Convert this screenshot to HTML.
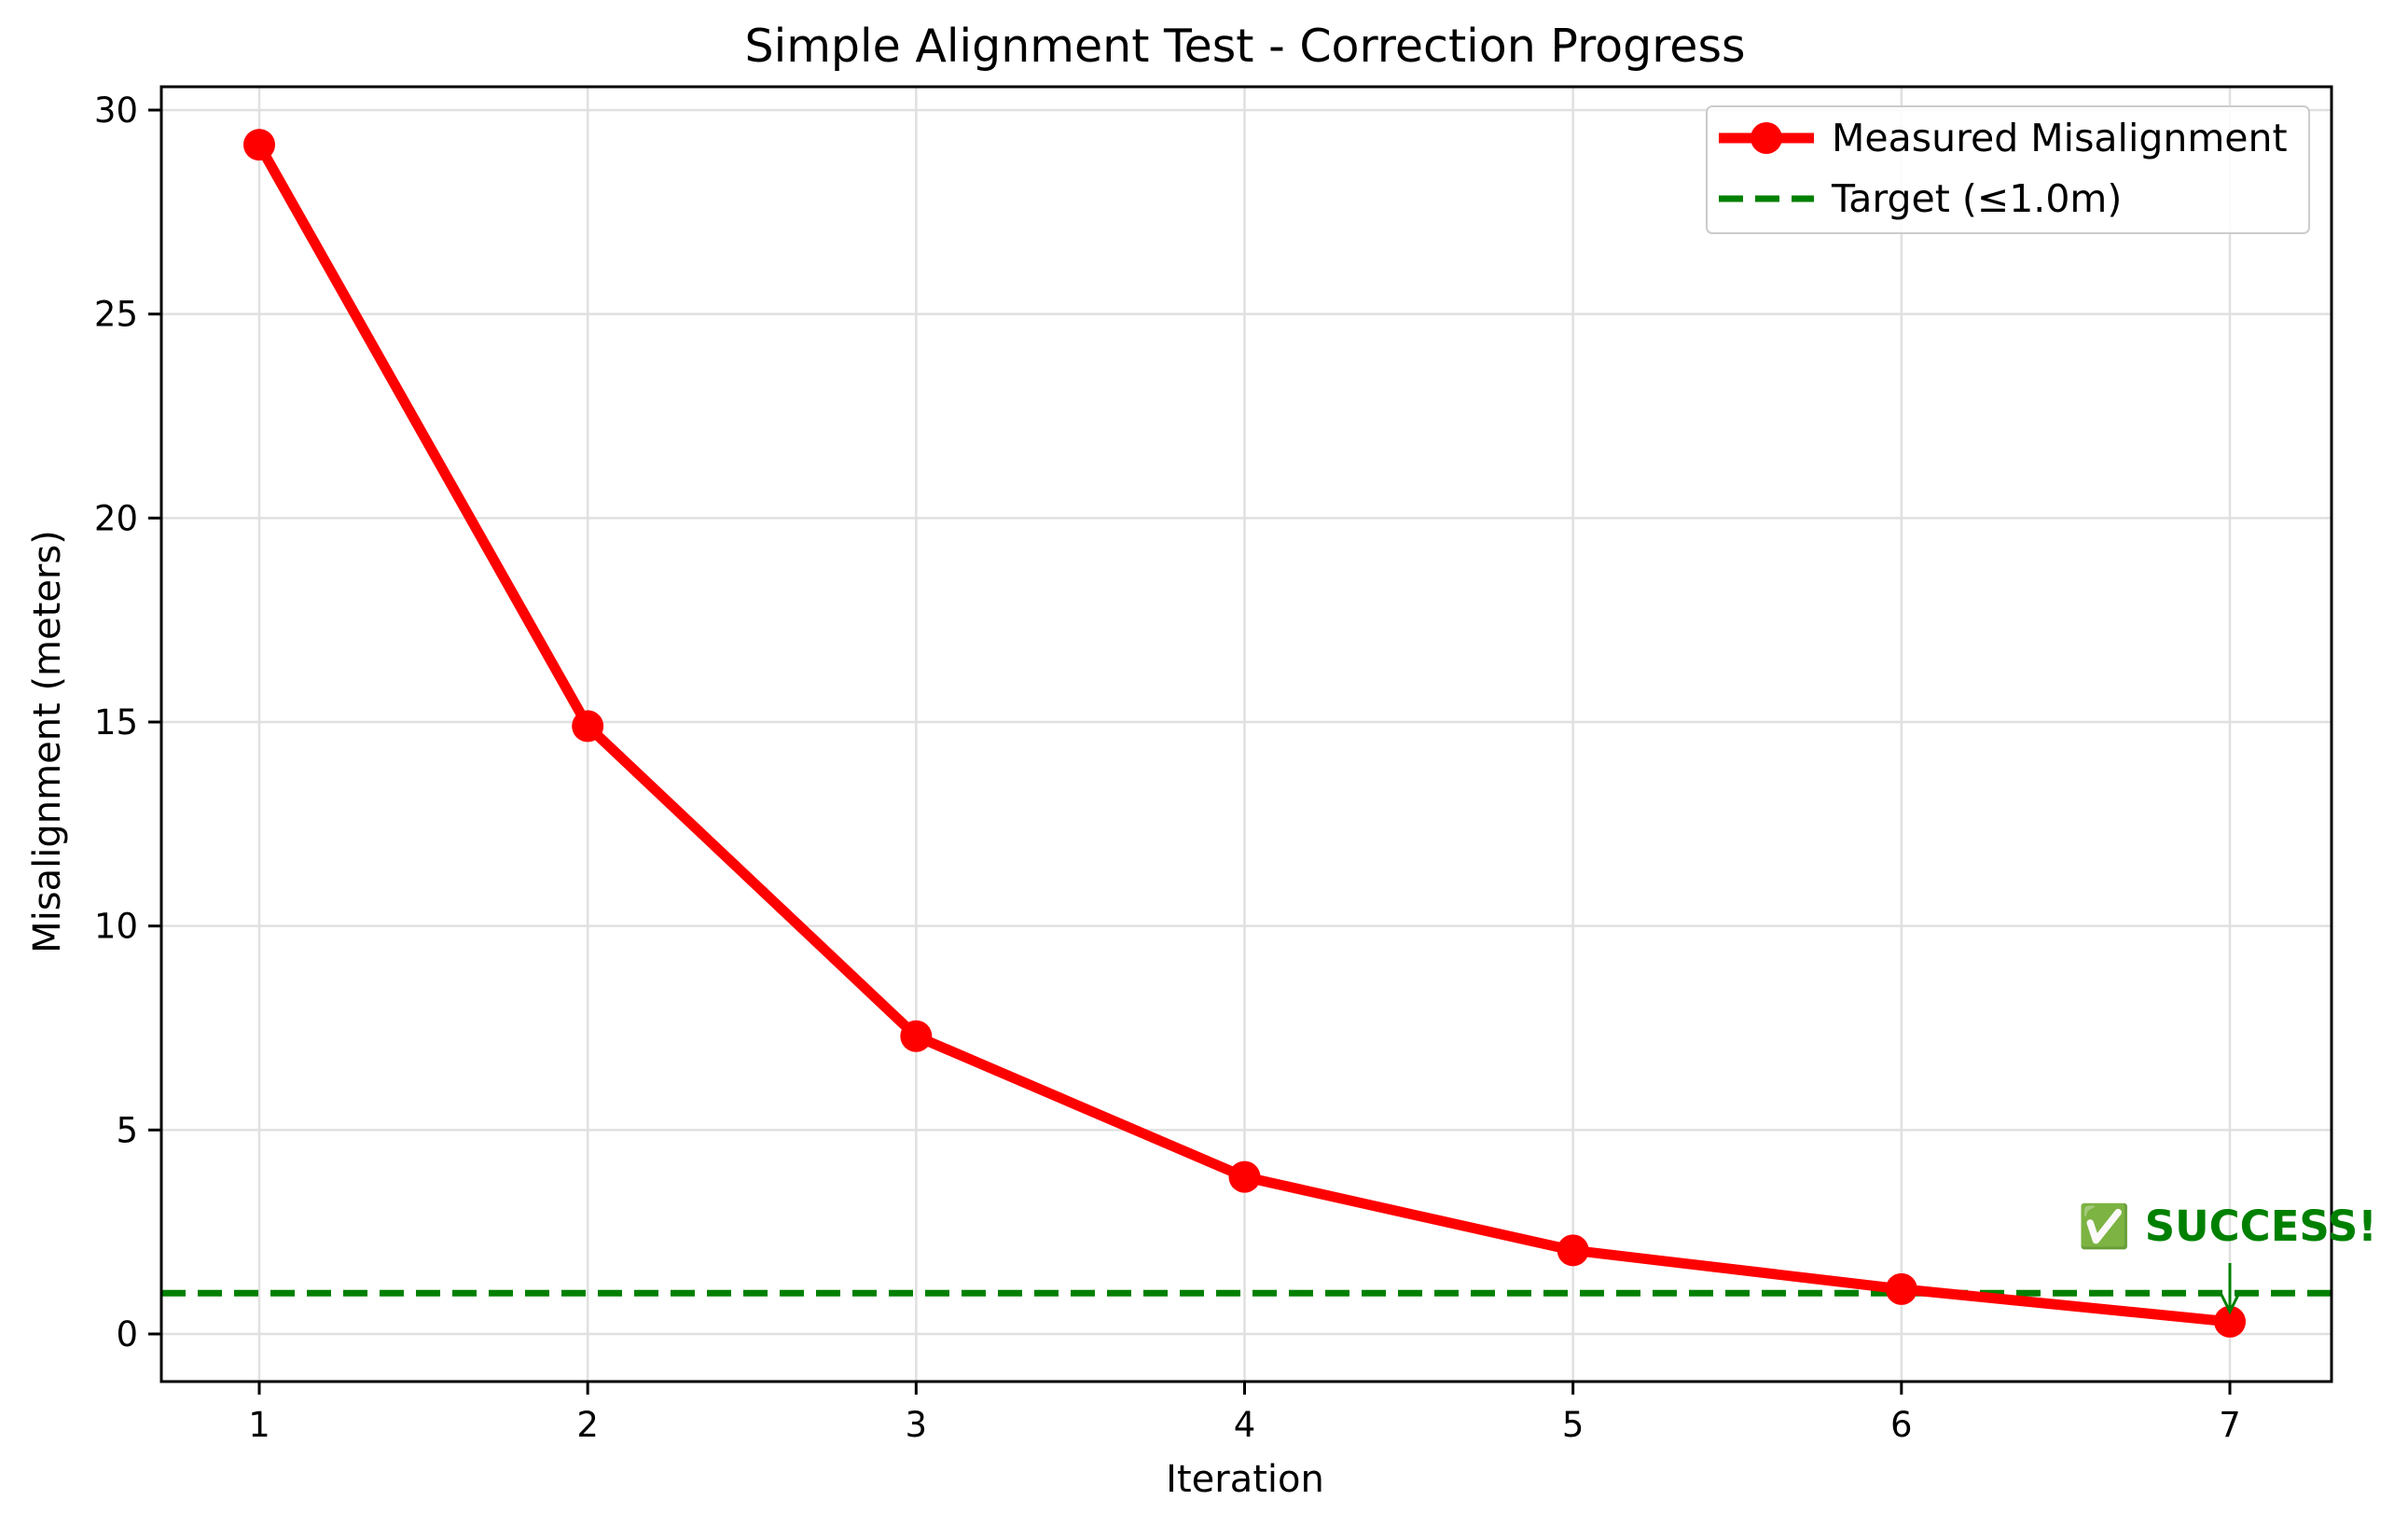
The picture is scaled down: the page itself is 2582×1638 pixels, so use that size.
<!DOCTYPE html>
<html><head><meta charset="utf-8"><style>
html,body{margin:0;padding:0;background:#fff;}
svg{display:block;font-family:"DejaVu Sans","Liberation Sans",sans-serif;}
</style></head><body>
<div style="position:relative;width:2582px;height:1638px;">
<svg id="chart" width="2582" height="1638" viewBox="0 0 2582 1638" xmlns="http://www.w3.org/2000/svg" style="position:absolute;left:0;top:0"></svg>
<svg width="2582" height="1638" style="position:absolute;left:0;top:0;pointer-events:none" xmlns="http://www.w3.org/2000/svg">
  <text x="1335" y="66" text-anchor="middle" font-size="49" font-family="DejaVu Sans, Liberation Sans, sans-serif">Simple Alignment Test - Correction Progress</text>
  <text x="1335" y="1599" text-anchor="middle" font-size="40" font-family="DejaVu Sans, Liberation Sans, sans-serif">Iteration</text>
  <text transform="translate(64,795) rotate(-90)" text-anchor="middle" font-size="40" font-family="DejaVu Sans, Liberation Sans, sans-serif">Misalignment (meters)</text>
  <g>
    <rect x="1830" y="114" width="646" height="136" rx="6" fill="#fff" fill-opacity="0.85" stroke="#cccccc" stroke-width="2"/>
    <g>
      <line x1="1843" x2="1945" y1="148" y2="148" stroke="#ff0000" stroke-width="11"/>
      <circle cx="1894" cy="148" r="17" fill="#ff0000"/>
      <text x="1964" y="162" font-size="41" font-family="DejaVu Sans, Liberation Sans, sans-serif">Measured Misalignment</text>
    </g>
    <g>
      <line x1="1843" x2="1945" y1="213" y2="213" stroke="#008000" stroke-width="7" stroke-dasharray="26 13"/>
      <text x="1964" y="227" font-size="41" font-family="DejaVu Sans, Liberation Sans, sans-serif">Target (≤1.0m)</text>
    </g>
  </g>
</svg>
</div>
<script>
const iterations = [1, 2, 3, 4, 5, 6, 7];
const misalignment = [29.15, 14.9, 7.3, 3.85, 2.05, 1.1, 0.3];
const targetValue = [1.0];
const xTicks = [1, 2, 3, 4, 5, 6, 7];
const yTicks = [0, 5, 10, 15, 20, 25, 30];

const L = 173, R = 2500, T = 93, B = 1481;
const xs = v => 278 + (v - 1) * (2391 - 278) / 6;
const ys = v => 1430 - v * (1430 - 118) / 30;
const NS = "http://www.w3.org/2000/svg";
const svg = document.getElementById('chart');
function mk(tag, attrs, parent) {
  const e = document.createElementNS(NS, tag);
  for (const k in attrs) e.setAttribute(k, attrs[k]);
  (parent || svg).appendChild(e);
  return e;
}
xTicks.forEach(v => {
  const g = mk('line', {x1: xs(v), x2: xs(v), y1: T, y2: B, stroke: '#e0e0e0', 'stroke-width': 2.5});
  
  
});
yTicks.forEach(v => {
  const g = mk('line', {x1: L, x2: R, y1: ys(v), y2: ys(v), stroke: '#e0e0e0', 'stroke-width': 2.5});
  
  
});
const tl = mk('line', {x1: L, x2: R, y1: ys(targetValue[0]), y2: ys(targetValue[0]), stroke: '#008000', 'stroke-width': 7, 'stroke-dasharray': '26 13'});


const pl = mk('polyline', {points: iterations.map((x, i) => xs(x) + ',' + ys(misalignment[i])).join(' '), fill: 'none', stroke: '#ff0000', 'stroke-width': 11, 'stroke-linejoin': 'round'});


iterations.forEach((x, i) => {
  const c = mk('circle', {cx: xs(x), cy: ys(misalignment[i]), r: 17, fill: '#ff0000'});
  
  
});
const fr = mk('rect', {x: L, y: T, width: R - L, height: B - T, fill: 'none', stroke: '#000', 'stroke-width': 3});


xTicks.forEach(v => {
  mk('line', {x1: xs(v), x2: xs(v), y1: B, y2: B + 14, stroke: '#000', 'stroke-width': 3});
  const t = mk('text', {x: xs(v), y: B + 59, 'text-anchor': 'middle', 'font-size': 37});
  t.textContent = v;
  
  
});
yTicks.forEach(v => {
  mk('line', {x1: L - 14, x2: L, y1: ys(v), y2: ys(v), stroke: '#000', 'stroke-width': 3});
  const t = mk('text', {x: L - 25, y: ys(v) + 13, 'text-anchor': 'end', 'font-size': 37});
  t.textContent = v;
  
  
});
const ann = mk('text', {x: 2228, y: 1330, 'font-size': 45, 'font-weight': 'bold', fill: '#008000'});
ann.textContent = '\u2705 SUCCESS!';


const ax = xs(iterations[6]);
const ar = mk('line', {x1: ax, x2: ax, y1: 1354, y2: 1404, stroke: '#008000', 'stroke-width': 3});


mk('polyline', {points: `${ax-10},${1386} ${ax},${1406} ${ax+10},${1386}`, fill: 'none', stroke: '#008000', 'stroke-width': 3});
</script>
</body></html>
